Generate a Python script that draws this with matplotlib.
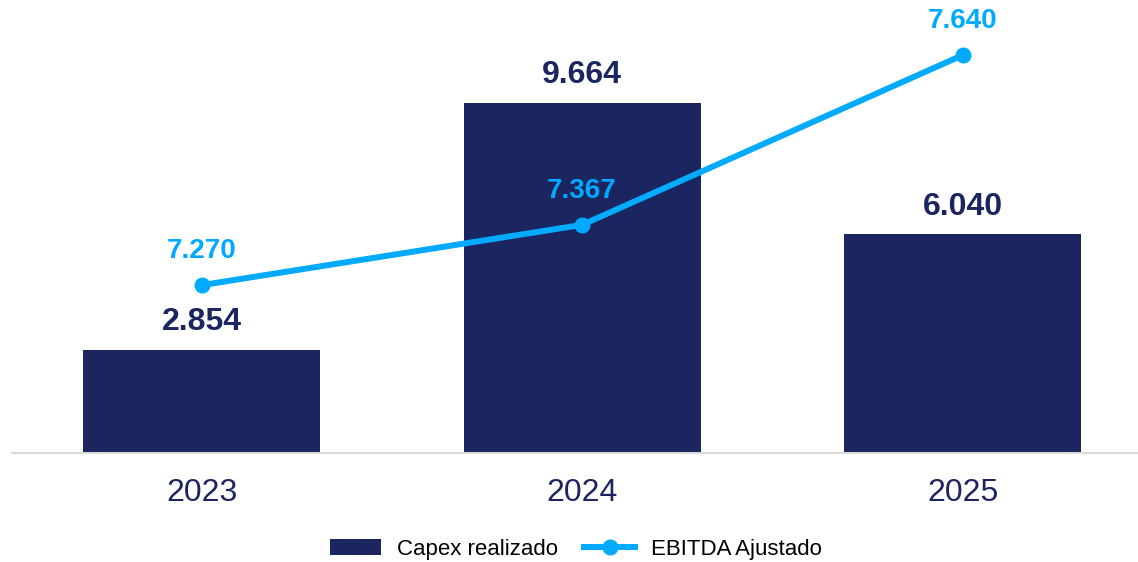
import matplotlib
matplotlib.use("Agg")
import matplotlib.pyplot as plt
import numpy as np

plt.rcParams['font.family'] = ['Liberation Sans', 'DejaVu Sans']

years = ['2023', '2024', '2025']
capex = [2.854, 9.664, 6.040]
ebitda = [7.270, 7.367, 7.640]
capex_lbl = ['2.854', '9.664', '6.040']
ebitda_lbl = ['7.270', '7.367', '7.640']

navy = '#1b2560'
sky = '#00aaff'

W, H = 1138, 562
fig = plt.figure(figsize=(W / 100, H / 100), dpi=100)
ax = fig.add_axes([12 / W, 1 - 453 / H, 1 - 12 / W, 453 / H])
x = np.arange(len(years))

bars = ax.bar(x, capex, width=0.623, color=navy, label='Capex realizado', zorder=2)
ax.set_ylim(0, 453 / 36.2)
ax.set_xlim(-0.498, 2.461)
for s in ['top', 'right', 'left']:
    ax.spines[s].set_visible(False)
ax.spines['bottom'].set_color('#d9d9d9')
ax.spines['bottom'].set_linewidth(1.5)
ax.set_yticks([])
ax.set_xticks(x)
ax.set_xticklabels(years, fontsize=23, color=navy)
ax.tick_params(axis='x', length=0, pad=18)
for xi, v, t in zip(x, capex, capex_lbl):
    ax.annotate(t, (xi, v), xytext=(0, 20), textcoords='offset points',
                ha='center', va='center', fontsize=23, fontweight='bold', color=navy)

ax2 = ax.twinx()
ax2.set_ylim(7.0, 7.0 + 453 / 621.6)
ax2.axis('off')
ln, = ax2.plot(x, ebitda, color=sky, lw=4.3, marker='o', ms=10.5, label='EBITDA Ajustado', zorder=3)
for xi, v, t in zip(x, ebitda, ebitda_lbl):
    ax2.annotate(t, (xi, v), xytext=(0, 24.5), textcoords='offset points',
                 ha='center', va='center', fontsize=20, fontweight='bold', color=sky)

fig.legend([bars, ln], ['Capex realizado', 'EBITDA Ajustado'], loc='center',
           bbox_to_anchor=(0.506, 1 - 549 / H), ncol=2, frameon=False, fontsize=16,
           handlelength=2.3, handletextpad=0.7, columnspacing=1.2)

fig.savefig('out.png', dpi=100)
